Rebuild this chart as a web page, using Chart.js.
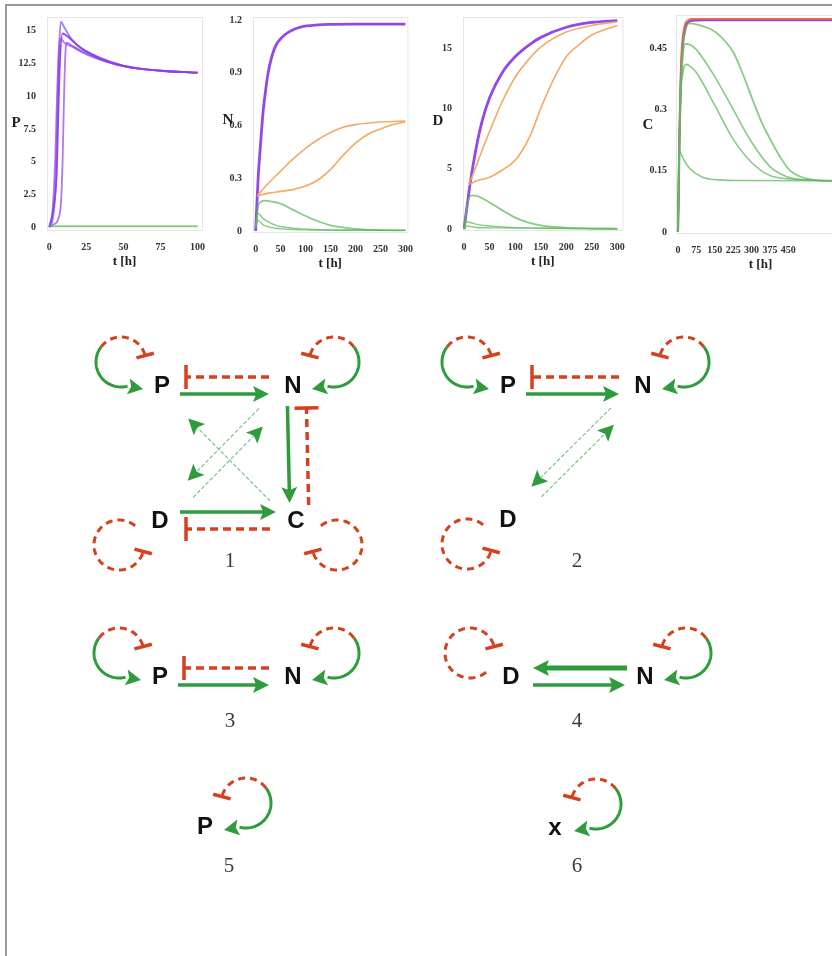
<!DOCTYPE html>
<html>
<head>
<meta charset="utf-8">
<script src="https://cdn.jsdelivr.net/npm/chart.js@4.4.0/dist/chart.umd.min.js"></script>
<style>
  body { margin: 0; background: #fff; width: 832px; height: 956px; overflow: hidden; position: relative; }
  .frame { position: absolute; left: 5px; top: 4px; width: 900px; height: 1000px;
           border-left: 2px solid #9a9a9a; border-top: 2px solid #9a9a9a; }
  canvas { position: absolute; }
</style>
</head>
<body>
<div class="frame"></div>
<canvas id="chartP" width="202" height="282" style="left:8px;top:8px"></canvas>
<canvas id="chartN" width="204" height="282" style="left:212px;top:8px"></canvas>
<canvas id="chartD" width="208" height="282" style="left:420px;top:8px"></canvas>
<canvas id="chartC" width="220" height="282" style="left:632px;top:8px"></canvas>
<canvas id="network" width="832" height="666" style="left:0;top:290px"></canvas>

<script>
// ---- time course data ----
const pTimesA = [0, 2, 4, 5, 6, 7, 8, 10, 15, 25, 35, 50, 75, 100];
const pValuesA = [0, 0.4, 2.5, 6, 11, 14.5, 15.7, 15.3, 14.4, 13.4, 12.8, 12.3, 11.95, 11.8];
const pTimesB = [0, 2, 4, 5, 6, 7, 8, 10, 15, 25, 50, 75, 100];
const pValuesB = [0, 1, 5, 9, 12.5, 14.2, 14.4, 14.1, 13.8, 13.2, 12.3, 11.95, 11.8];
const pTimesC = [0, 3, 6, 8, 9, 10, 11, 12, 15, 25, 50, 75, 100];
const pValuesC = [0, 0.2, 0.6, 2, 5, 10, 13.5, 14.1, 13.9, 13.3, 12.3, 11.95, 11.8];
const pTimesD = [0, 1, 3, 5, 6, 7, 9, 12, 20, 35, 50, 75, 100];
const pValuesD = [0, 0.4, 1.5, 4, 8, 12, 14.8, 14.6, 13.8, 12.9, 12.35, 11.95, 11.8];
const pTimesGreen = [0, 100];
const pValuesGreen = [0.05, 0.05];

const nTimesPurple = [0, 5, 10, 15, 20, 25, 38, 58, 75, 90, 125, 150, 200, 300];
const nValuesPurple = [0, 0.3, 0.5, 0.68, 0.8, 0.9, 1.04, 1.115, 1.145, 1.16, 1.172, 1.175, 1.177, 1.177];
const nTimesOrangeA = [3, 25, 50, 75, 100, 125, 150, 175, 200, 250, 300];
const nValuesOrangeA = [0.2, 0.27, 0.34, 0.41, 0.47, 0.52, 0.56, 0.59, 0.605, 0.62, 0.625];
const nTimesOrangeB = [3, 25, 50, 75, 100, 125, 150, 175, 200, 225, 250, 275, 300];
const nValuesOrangeB = [0.2, 0.215, 0.225, 0.235, 0.255, 0.29, 0.35, 0.43, 0.5, 0.55, 0.58, 0.605, 0.62];
const nTimesGreenA = [0, 5, 10, 20, 30, 50, 75, 100, 125, 150, 200, 250, 300];
const nValuesGreenA = [0.02, 0.14, 0.165, 0.172, 0.168, 0.155, 0.12, 0.085, 0.055, 0.032, 0.012, 0.005, 0.003];
const nTimesGreenB = [0, 5, 15, 30, 50, 100, 200, 300];
const nValuesGreenB = [0.02, 0.1, 0.07, 0.045, 0.025, 0.01, 0.005, 0.003];
const nTimesGreenC = [0, 5, 15, 30, 50, 100, 300];
const nValuesGreenC = [0.02, 0.06, 0.035, 0.02, 0.012, 0.006, 0.003];

const dTimesPurple = [0, 5, 10, 15, 25, 35, 50, 75, 100, 125, 150, 200, 250, 300];
const dValuesPurple = [0, 1.6, 3.2, 4.6, 7.0, 8.9, 10.9, 13.0, 14.3, 15.2, 15.9, 16.75, 17.15, 17.3];
const dTimesOrangeA = [10, 20, 35, 50, 75, 100, 125, 150, 200, 250, 300];
const dValuesOrangeA = [3.8, 4.8, 6.5, 8.1, 10.6, 12.6, 14.0, 15.1, 16.35, 16.9, 17.2];
const dTimesOrangeB = [10, 25, 50, 75, 100, 115, 130, 150, 175, 200, 225, 250, 300];
const dValuesOrangeB = [3.7, 4.0, 4.3, 4.9, 5.7, 6.6, 7.8, 10.0, 12.4, 14.3, 15.3, 16.1, 16.9];
const dTimesGreenA = [0, 5, 10, 15, 25, 50, 75, 100, 125, 150, 200, 250, 300];
const dValuesGreenA = [0, 1.6, 2.6, 2.8, 2.75, 2.2, 1.55, 0.95, 0.55, 0.3, 0.1, 0.04, 0.02];
const dTimesGreenB = [0, 5, 15, 30, 50, 100, 200, 300];
const dValuesGreenB = [0, 0.6, 0.5, 0.35, 0.25, 0.12, 0.05, 0.02];
const dTimesGreenC = [0, 5, 20, 50, 300];
const dValuesGreenC = [0, 0.25, 0.15, 0.1, 0.05];

const cTimesPurple = [0, 3, 6, 10, 15, 20, 30, 40, 60, 100, 680];
const cValuesPurple = [0, 0.1, 0.22, 0.33, 0.42, 0.46, 0.5, 0.512, 0.517, 0.518, 0.518];
const cValuesRed = [0, 0.12, 0.25, 0.36, 0.44, 0.48, 0.51, 0.518, 0.521, 0.521, 0.521];
const cTimesGreenA = [0, 5, 10, 20, 30, 45, 75, 150, 225, 262, 300, 340, 382, 420, 457, 500, 545, 620, 680];
const cValuesGreenA = [0, 0.2, 0.33, 0.45, 0.49, 0.51, 0.508, 0.49, 0.44, 0.39, 0.33, 0.27, 0.22, 0.18, 0.15, 0.135, 0.128, 0.125, 0.125];
const cTimesGreenB = [0, 5, 10, 20, 30, 50, 75, 150, 225, 300, 375, 450, 525, 680];
const cValuesGreenB = [0, 0.2, 0.33, 0.43, 0.46, 0.458, 0.446, 0.38, 0.30, 0.22, 0.16, 0.134, 0.127, 0.125];
const cTimesGreenC = [0, 5, 10, 20, 35, 50, 75, 150, 225, 300, 375, 450, 680];
const cValuesGreenC = [0, 0.2, 0.32, 0.39, 0.41, 0.405, 0.39, 0.31, 0.227, 0.17, 0.138, 0.13, 0.125];
const cTimesGreenD = [0, 3, 6, 10, 25, 50, 100, 150, 250, 680];
const cValuesGreenD = [0, 0.15, 0.2, 0.195, 0.175, 0.154, 0.134, 0.128, 0.126, 0.125];

// ---- ticks ----
const pXTicks = [0, 25, 50, 75, 100];
const pXLabels = ['0', '25', '50', '75', '100'];
const pYTicks = [0, 2.5, 5, 7.5, 10, 12.5, 15];
const pYLabels = ['0', '2.5', '5', '7.5', '10', '12.5', '15'];
const nXTicks = [0, 50, 100, 150, 200, 250, 300];
const nXLabels = ['0', '50', '100', '150', '200', '250', '300'];
const nYTicks = [0, 0.3, 0.6, 0.9, 1.2];
const nYLabels = ['0', '0.3', '0.6', '0.9', '1.2'];
const dXTicks = [0, 50, 100, 150, 200, 250, 300];
const dXLabels = ['0', '50', '100', '150', '200', '250', '300'];
const dYTicks = [0, 5, 10, 15];
const dYLabels = ['0', '5', '10', '15'];
const cXTicks = [0, 75, 150, 225, 300, 375, 450];
const cXLabels = ['0', '75', '150', '225', '300', '375', '450'];
const cYTicks = [0, 0.15, 0.3, 0.45];
const cYLabels = ['0', '0.15', '0.3', '0.45'];

// ---- network diagrams ----
const nodeText = ['P', 'N', 'D', 'C', 'P', 'N', 'D', 'P', 'N', 'D', 'N', 'P', 'x'];
const nodeX = [162, 293, 160, 296, 508, 643, 508, 160, 293, 511, 645, 205, 555];
const nodeY = [96, 96, 231, 231, 96, 96, 230, 387, 387, 387, 387, 537, 538];
const panelText = ['1', '2', '3', '4', '5', '6'];
const panelX = [230, 577, 230, 577, 229, 577];
const panelY = [271, 271, 431, 431, 576, 576];
// [from, to, kind, offset, trim at start, trim at end]
const edgeList = [
  [0, 1, 'act', [0, 8], 18, 24], [1, 0, 'inh', [0, -9], 24, 24],
  [1, 3, 'act', [-6, 0], 20, 18], [3, 1, 'inh', [13, 0], 16, 22],
  [2, 3, 'act', [0, -9], 20, 20], [3, 2, 'inh', [0, 8], 26, 26],
  [3, 0, 'weak', [-2, 4], 34, 40], [1, 2, 'weak', [-6, -6], 40, 48], [2, 1, 'weak', [5, 5], 40, 50],
  [4, 5, 'act', [0, 8], 18, 24], [5, 4, 'inh', [0, -9], 24, 24],
  [5, 6, 'weak', [-5, -5], 38, 40], [6, 5, 'weak', [5, 5], 40, 48],
  [7, 8, 'act', [0, 8], 18, 24], [8, 7, 'inh', [0, -9], 24, 24],
  [10, 9, 'thick', [0, -9], 18, 22], [9, 10, 'act', [0, 8], 22, 20]
];
// [node, orientation, kind]
const loopList = [
  [0, 'ul', 'mixed'], [1, 'ur', 'mixed'], [2, 'dl', 'red'], [3, 'dr', 'red'],
  [4, 'ul', 'mixed'], [5, 'ur', 'mixed'], [6, 'dl', 'red'],
  [7, 'ul', 'mixed'], [8, 'ur', 'mixed'],
  [9, 'ul', 'red'], [10, 'ur', 'mixed'],
  [11, 'ur', 'mixed'], [12, 'ur', 'mixed']
];

const PURPLE = 'rgba(128, 40, 230, 0.85)';
const PURPLE_LIGHT = 'rgba(140, 65, 232, 0.7)';
const ORANGE = 'rgba(240, 165, 95, 0.95)';
const GREEN_LINE = 'rgba(95, 185, 95, 0.75)';
const RED_LINE = 'rgba(230, 90, 70, 0.85)';
const GREEN = '#2e9c3c';
const RED = '#d5401f';
const WEAK = 'rgba(80, 175, 95, 0.8)';

function series(t, v, color, width) {
  return {
    data: t.map((x, i) => ({ x: x, y: v[i] })),
    borderColor: color,
    borderWidth: width,
    pointRadius: 0,
    fill: false,
    cubicInterpolationMode: 'monotone'
  };
}

const framePlugin = {
  id: 'frame',
  beforeDatasetsDraw(chart) {
    const a = chart.chartArea, ctx = chart.ctx;
    ctx.save();
    ctx.strokeStyle = '#e6e6e6';
    ctx.lineWidth = 1;
    ctx.strokeRect(a.left + 0.5, a.top + 0.5, a.right - a.left, a.bottom - a.top);
    ctx.restore();
  },
  afterDraw(chart, args, opts) {
    const a = chart.chartArea, ctx = chart.ctx;
    ctx.save();
    ctx.font = 'bold 15px "Liberation Serif"';
    ctx.fillStyle = '#222';
    ctx.textAlign = 'center';
    ctx.textBaseline = 'middle';
    ctx.fillText(opts.text, a.left - opts.dx, (a.top + a.bottom) / 2 + opts.dy);
    ctx.restore();
  }
};

function makePlot(id, cfg) {
  const tickFont = { family: 'Liberation Serif', size: 10, weight: 'bold' };
  new Chart(document.getElementById(id), {
    type: 'line',
    data: { datasets: cfg.datasets },
    options: {
      responsive: false,
      animation: false,
      layout: { padding: cfg.padding },
      plugins: { legend: { display: false }, tooltip: { enabled: false }, frame: cfg.label },
      scales: {
        x: {
          type: 'linear', min: cfg.xMin, max: cfg.xMax,
          grid: { display: false }, border: { display: false },
          afterBuildTicks: s => { s.ticks = cfg.xTicks.map(v => ({ value: v })); },
          afterFit: s => { s.height = 39; },
          ticks: { font: tickFont, color: '#333', padding: 3, maxRotation: 0, autoSkip: false,
                   callback: (v, i) => cfg.xLabels[i] },
          title: { display: true, text: 't [h]', padding: 0, color: '#222',
                   font: { family: 'Liberation Serif', size: 13, weight: 'bold' } }
        },
        y: {
          min: cfg.yMin, max: cfg.yMax,
          grid: { display: false }, border: { display: false },
          afterBuildTicks: s => { s.ticks = cfg.yTicks.map(v => ({ value: v })); },
          afterFit: s => { s.width = 30; },
          ticks: { font: tickFont, color: '#333', padding: cfg.yPad || 3, autoSkip: false,
                   callback: (v, i) => cfg.yLabels[i] }
        }
      }
    },
    plugins: [framePlugin]
  });
}

makePlot('chartP', {
  padding: { left: 9, right: 8, top: 7, bottom: 21 },
  xMin: -1.5, xMax: 103, yMin: -0.23, yMax: 16.06,
  xTicks: pXTicks, xLabels: pXLabels, yTicks: pYTicks, yLabels: pYLabels,
  label: { text: 'P', dx: 31, dy: 0 },
  datasets: [
    series(pTimesGreen, pValuesGreen, GREEN_LINE, 2),
    series(pTimesA, pValuesA, PURPLE_LIGHT, 1.8),
    series(pTimesB, pValuesB, PURPLE_LIGHT, 1.8),
    series(pTimesC, pValuesC, PURPLE_LIGHT, 1.8),
    series(pTimesD, pValuesD, PURPLE, 1.8)
  ]
});

makePlot('chartN', {
  padding: { left: 11, right: 6, top: 7, bottom: 19 },
  xMin: -5.3, xMax: 304, yMin: -0.006, yMax: 1.217,
  xTicks: nXTicks, xLabels: nXLabels, yTicks: nYTicks, yLabels: nYLabels,
  label: { text: 'N', dx: 25, dy: -4 },
  datasets: [
    series(nTimesGreenC, nValuesGreenC, GREEN_LINE, 1.4),
    series(nTimesGreenB, nValuesGreenB, GREEN_LINE, 1.4),
    series(nTimesGreenA, nValuesGreenA, GREEN_LINE, 1.8),
    series(nTimesOrangeA, nValuesOrangeA, ORANGE, 1.6),
    series(nTimesOrangeB, nValuesOrangeB, ORANGE, 1.6),
    series(nTimesPurple, nValuesPurple, PURPLE, 2.8)
  ]
});

makePlot('chartD', {
  padding: { left: 13, right: 5, top: 5, bottom: 21 },
  xMin: -2, xMax: 310, yMin: -0.08, yMax: 17.6,
  xTicks: dXTicks, xLabels: dXLabels, yTicks: dYTicks, yLabels: dYLabels,
  label: { text: 'D', dx: 25, dy: -2 },
  datasets: [
    series(dTimesGreenC, dValuesGreenC, GREEN_LINE, 1.4),
    series(dTimesGreenB, dValuesGreenB, GREEN_LINE, 1.4),
    series(dTimesGreenA, dValuesGreenA, GREEN_LINE, 1.8),
    series(dTimesOrangeA, dValuesOrangeA, ORANGE, 1.6),
    series(dTimesOrangeB, dValuesOrangeB, ORANGE, 1.6),
    series(dTimesPurple, dValuesPurple, PURPLE, 2.8)
  ]
});

makePlot('chartC', {
  padding: { left: 14, right: 7, top: 7, bottom: 18 },
  xMin: -8, xMax: 681, yMin: -0.0025, yMax: 0.5307,
  xTicks: cXTicks, xLabels: cXLabels, yTicks: cYTicks, yLabels: cYLabels, yPad: 1,
  label: { text: 'C', dx: 28, dy: 1 },
  datasets: [
    series(cTimesGreenD, cValuesGreenD, GREEN_LINE, 1.6),
    series(cTimesGreenC, cValuesGreenC, GREEN_LINE, 1.6),
    series(cTimesGreenB, cValuesGreenB, GREEN_LINE, 1.6),
    series(cTimesGreenA, cValuesGreenA, GREEN_LINE, 1.8),
    series(cTimesPurple, cValuesRed, RED_LINE, 2),
    series(cTimesPurple, cValuesPurple, PURPLE, 2.2)
  ]
});

// ---- network drawing helpers ----
function arrowHead(ctx, tx, ty, ux, uy, len, half, color) {
  ctx.save();
  ctx.setLineDash([]);
  ctx.fillStyle = color;
  ctx.beginPath();
  ctx.moveTo(tx, ty);
  ctx.lineTo(tx - ux * len - uy * half, ty - uy * len + ux * half);
  ctx.lineTo(tx - ux * len * 0.8, ty - uy * len * 0.8);
  ctx.lineTo(tx - ux * len + uy * half, ty - uy * len - ux * half);
  ctx.closePath();
  ctx.fill();
  ctx.restore();
}

function tBar(ctx, x, y, ux, uy, half) {
  ctx.save();
  ctx.setLineDash([]);
  ctx.strokeStyle = RED;
  ctx.lineWidth = 3.5;
  ctx.beginPath();
  ctx.moveTo(x + uy * half, y - ux * half);
  ctx.lineTo(x - uy * half, y + ux * half);
  ctx.stroke();
  ctx.restore();
}

function drawEdge(ctx, a, b, e) {
  const kind = e[2], off = e[3];
  const dx = b.x - a.x, dy = b.y - a.y, L = Math.hypot(dx, dy);
  const ux = dx / L, uy = dy / L;
  const sx = a.x + ux * e[4] + off[0], sy = a.y + uy * e[4] + off[1];
  const ex = b.x - ux * e[5] + off[0], ey = b.y - uy * e[5] + off[1];
  ctx.save();
  ctx.lineCap = 'butt';
  if (kind === 'inh') {
    ctx.strokeStyle = RED;
    ctx.lineWidth = 3.5;
    ctx.setLineDash([8, 5]);
    ctx.beginPath(); ctx.moveTo(sx, sy); ctx.lineTo(ex, ey); ctx.stroke();
    tBar(ctx, ex, ey, ux, uy, 12);
  } else if (kind === 'weak') {
    ctx.strokeStyle = WEAK;
    ctx.lineWidth = 1.1;
    ctx.setLineDash([4, 2]);
    ctx.beginPath(); ctx.moveTo(sx, sy); ctx.lineTo(ex - ux * 10, ey - uy * 10); ctx.stroke();
    arrowHead(ctx, ex, ey, ux, uy, 16, 8, GREEN);
  } else {
    ctx.strokeStyle = GREEN;
    ctx.lineWidth = kind === 'thick' ? 5 : 3.5;
    ctx.beginPath(); ctx.moveTo(sx, sy); ctx.lineTo(ex - ux * 10, ey - uy * 10); ctx.stroke();
    arrowHead(ctx, ex, ey, ux, uy, 16, 8, GREEN);
  }
  ctx.restore();
}

const LOOP_DX = 41, LOOP_DY = 24, LOOP_R = 25;
const LOOP_START = 50, LOOP_GREEN_END = 75, LOOP_SWITCH = 217, LOOP_END = 345;

function drawLoop(ctx, n, orient, kind) {
  const sx = orient[1] === 'l' ? 1 : -1;
  const sy = orient[0] === 'u' ? 1 : -1;
  const cx = n.x - LOOP_DX * sx, cy = n.y - LOOP_DY * sy;
  const pt = deg => {
    const a = deg * Math.PI / 180;
    return [cx + sx * LOOP_R * Math.cos(a), cy + sy * LOOP_R * Math.sin(a)];
  };
  const path = (from, to) => {
    ctx.beginPath();
    const step = from < to ? 3 : -3;
    let p = pt(from);
    ctx.moveTo(p[0], p[1]);
    for (let d = from + step; step > 0 ? d < to : d > to; d += step) {
      p = pt(d); ctx.lineTo(p[0], p[1]);
    }
    p = pt(to); ctx.lineTo(p[0], p[1]);
    ctx.stroke();
  };
  ctx.save();
  ctx.lineWidth = 3;
  ctx.lineCap = 'butt';
  if (kind === 'mixed') {
    ctx.strokeStyle = GREEN;
    ctx.setLineDash([]);
    path(LOOP_SWITCH, LOOP_GREEN_END);
    const p = pt(LOOP_GREEN_END);
    const tx = n.x - 19 * sx, ty = n.y + 3;
    const L = Math.hypot(tx - p[0], ty - p[1]);
    arrowHead(ctx, tx, ty, (tx - p[0]) / L, (ty - p[1]) / L, 15, 8, GREEN);
  }
  ctx.strokeStyle = RED;
  ctx.setLineDash([7, 5]);
  path(kind === 'mixed' ? LOOP_SWITCH : LOOP_START, LOOP_END);
  const e = pt(LOOP_END);
  const a = LOOP_END * Math.PI / 180;
  tBar(ctx, e[0], e[1], -sx * Math.sin(a), sy * Math.cos(a), 9);
  ctx.restore();
}

const networkPlugin = {
  id: 'network',
  afterDatasetsDraw(chart) {
    const ctx = chart.ctx;
    const nodes = chart.getDatasetMeta(0).data;
    const panels = chart.getDatasetMeta(1).data;
    edgeList.forEach(e => drawEdge(ctx, nodes[e[0]], nodes[e[1]], e));
    loopList.forEach(l => drawLoop(ctx, nodes[l[0]], l[1], l[2]));
    ctx.save();
    ctx.textAlign = 'center';
    ctx.textBaseline = 'middle';
    ctx.fillStyle = '#111';
    ctx.font = 'bold 24px "Liberation Sans"';
    nodes.forEach((p, i) => ctx.fillText(nodeText[i], p.x, p.y));
    ctx.fillStyle = '#3a3a3a';
    ctx.font = '21px "Liberation Serif"';
    panels.forEach((p, i) => ctx.fillText(panelText[i], p.x, p.y));
    ctx.restore();
  }
};

new Chart(document.getElementById('network'), {
  type: 'scatter',
  data: {
    datasets: [
      { data: nodeX.map((x, i) => ({ x: x, y: nodeY[i] })), pointRadius: 0 },
      { data: panelX.map((x, i) => ({ x: x, y: panelY[i] })), pointRadius: 0 }
    ]
  },
  options: {
    responsive: false,
    animation: false,
    layout: { padding: 0 },
    plugins: { legend: { display: false }, tooltip: { enabled: false } },
    scales: {
      x: { type: 'linear', min: 0, max: 832, display: false },
      y: { type: 'linear', min: 0, max: 666, reverse: true, display: false }
    }
  },
  plugins: [networkPlugin]
});
</script>
</body>
</html>
